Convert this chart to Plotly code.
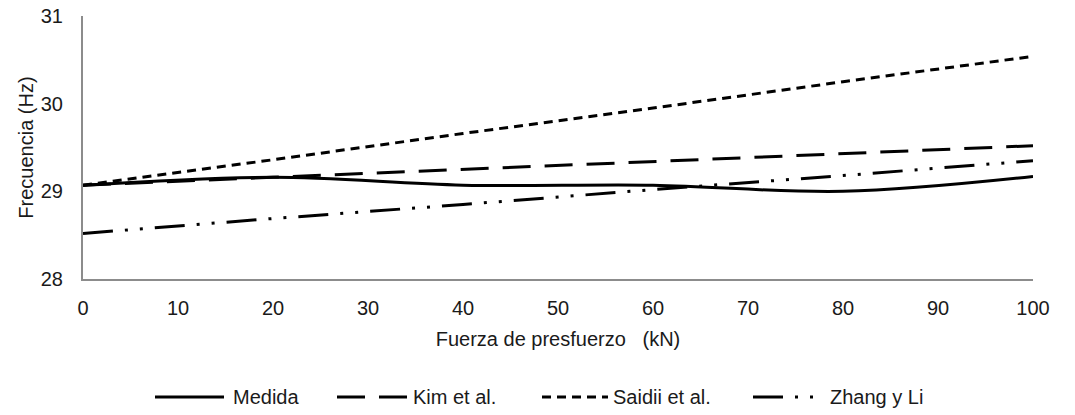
import plotly.graph_objects as go

fuerza = [0, 20, 40, 60, 80, 100]
medida = [29.07, 29.16, 29.07, 29.07, 29.0, 29.17]
kim = [29.07, 29.16, 29.25, 29.34, 29.43, 29.52]
saidii = [29.07, 29.36, 29.66, 29.95, 30.25, 30.54]
zhang = [28.52, 28.69, 28.85, 29.02, 29.18, 29.35]

names = ["Medida", "Kim et al.", "Saidii et al.", "Zhang y Li"]
values = [medida, kim, saidii, zhang]
dashes = ["solid", "28px,14px", "9px,6px", "30px,12px,3px,12px,3px,12px"]
shapes_ = ["spline", "linear", "linear", "linear"]

W, H = 1075, 415
L, R, T, B = 83, 42, 16, 136
PW, PH = W - L - R, H - T - B

FONT = "Liberation Sans, Arial, sans-serif"
TXT = "#1a1a1a"

fig = go.Figure()
for name, vals, dash, shp in zip(names, values, dashes, shapes_):
    fig.add_trace(go.Scatter(
        x=fuerza, y=vals, name=name, mode="lines", showlegend=False,
        line=dict(color="black", width=3, dash=dash, shape=shp, smoothing=1.0),
    ))

# custom legend (pixel layout converted to paper coords)
leg_y_px = 397
leg_line_px = [(155, 224), (337, 407), (542, 608), (753, 822)]
leg_text_px = [231, 411, 611, 828]
def px_x(p):
    return (p - L) / PW
def px_y(p):
    return (H - B - p) / PH
for name, dash, (x0, x1), tx in zip(names, dashes, leg_line_px, leg_text_px):
    fig.add_shape(type="line", xref="paper", yref="paper",
                  x0=px_x(x0), x1=px_x(x1), y0=px_y(leg_y_px), y1=px_y(leg_y_px),
                  line=dict(color="black", width=3, dash=dash))
    fig.add_annotation(xref="paper", yref="paper", x=px_x(tx), y=px_y(leg_y_px),
                       xanchor="left", yanchor="middle", showarrow=False, text=name,
                       font=dict(family=FONT, size=20, color=TXT))

fig.update_layout(
    width=W, height=H,
    margin=dict(l=L, r=R, t=T, b=B, autoexpand=False),
    paper_bgcolor="white", plot_bgcolor="white",
    font=dict(family=FONT, size=20, color=TXT),
    showlegend=False,
    xaxis=dict(range=[0, 100], tickvals=[0, 10, 20, 30, 40, 50, 60, 70, 80, 90, 100],
               showgrid=False, zeroline=False, showline=True, linecolor="#8c8c8c", linewidth=2,
               ticks="", ticklabelstandoff=10,
               title=dict(text="Fuerza de presfuerzo &nbsp; (kN)", standoff=14,
                          font=dict(family=FONT, size=20, color=TXT))),
    yaxis=dict(range=[28, 31], tickvals=[28, 29, 30, 31],
               showgrid=False, zeroline=False, showline=True, linecolor="#8c8c8c", linewidth=2,
               ticks="", ticklabelstandoff=14,
               title=dict(text="Frecuencia (Hz)", standoff=2,
                          font=dict(family=FONT, size=20, color=TXT))),
)
fig.write_html("out.html")
